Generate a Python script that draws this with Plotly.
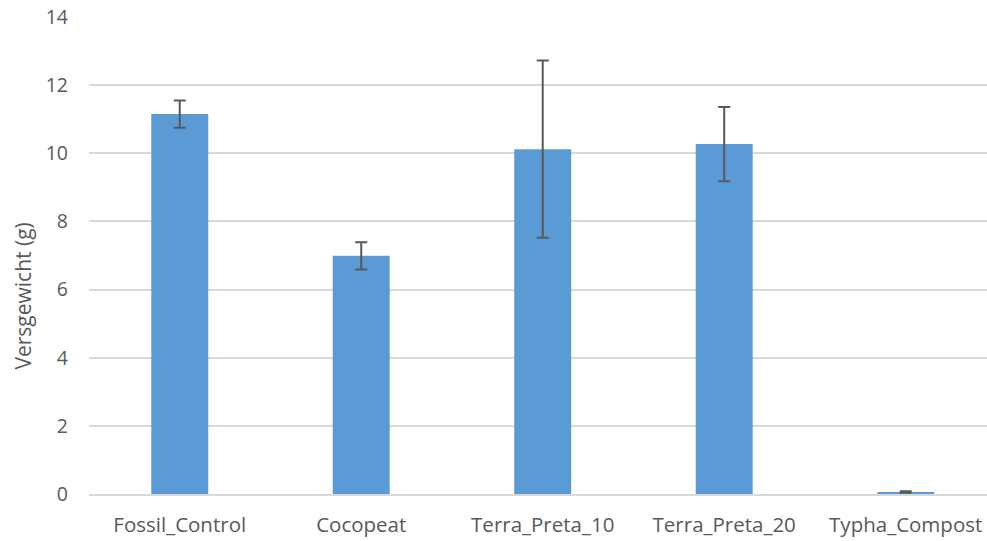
import plotly.graph_objects as go

categories = ["Fossil_Control", "Cocopeat", "Terra_Preta_10", "Terra_Preta_20", "Typha_Compost"]
values = [11.15, 6.99, 10.12, 10.27, 0.06]
errors = [0.40, 0.40, 2.60, 1.09, 0.02]
y_ticks = [0, 2, 4, 6, 8, 10, 12, 14]

font_family = "Open Sans, Liberation Sans, sans-serif"
text_color = "#595959"

fig = go.Figure()
fig.add_trace(go.Bar(
    x=list(range(len(categories))),
    y=values,
    width=0.314,
    marker=dict(color="#5b9bd5", line=dict(width=0)),
    error_y=dict(type="data", array=errors, visible=True,
                 color="#595959", thickness=2, width=6),
))

fig.update_layout(
    width=987, height=541,
    margin=dict(l=89, r=0, t=17, b=47),
    plot_bgcolor="white", paper_bgcolor="white",
    showlegend=False,
    font=dict(family=font_family, color=text_color, size=18),
    xaxis=dict(
        tickmode="array",
        tickvals=list(range(len(categories))),
        ticktext=categories,
        range=[-0.5, 4.448],
        showgrid=False,
        showline=True, linecolor="#d9d9d9", linewidth=1.5,
        ticks="", ticklabelstandoff=12,
        tickfont=dict(size=20.5, color=text_color),
        zeroline=False,
    ),
    yaxis=dict(
        range=[0, 14],
        tickvals=y_ticks,
        showgrid=True, gridcolor="#d9d9d9", gridwidth=1.5,
        zeroline=False, showline=False,
        ticks="", ticklabelstandoff=20,
        tickfont=dict(size=19.5, color=text_color),
    ),
    annotations=[dict(
        text="Versgewicht (g)", textangle=-90,
        xref="paper", yref="paper", x=-0.074, y=0.415,
        xanchor="center", yanchor="middle", showarrow=False,
        font=dict(size=21, color=text_color),
    )],
)

fig.write_html("out.html", config={"displayModeBar": False},
               post_script="document.body.style.margin='0';document.body.style.overflow='hidden';")
